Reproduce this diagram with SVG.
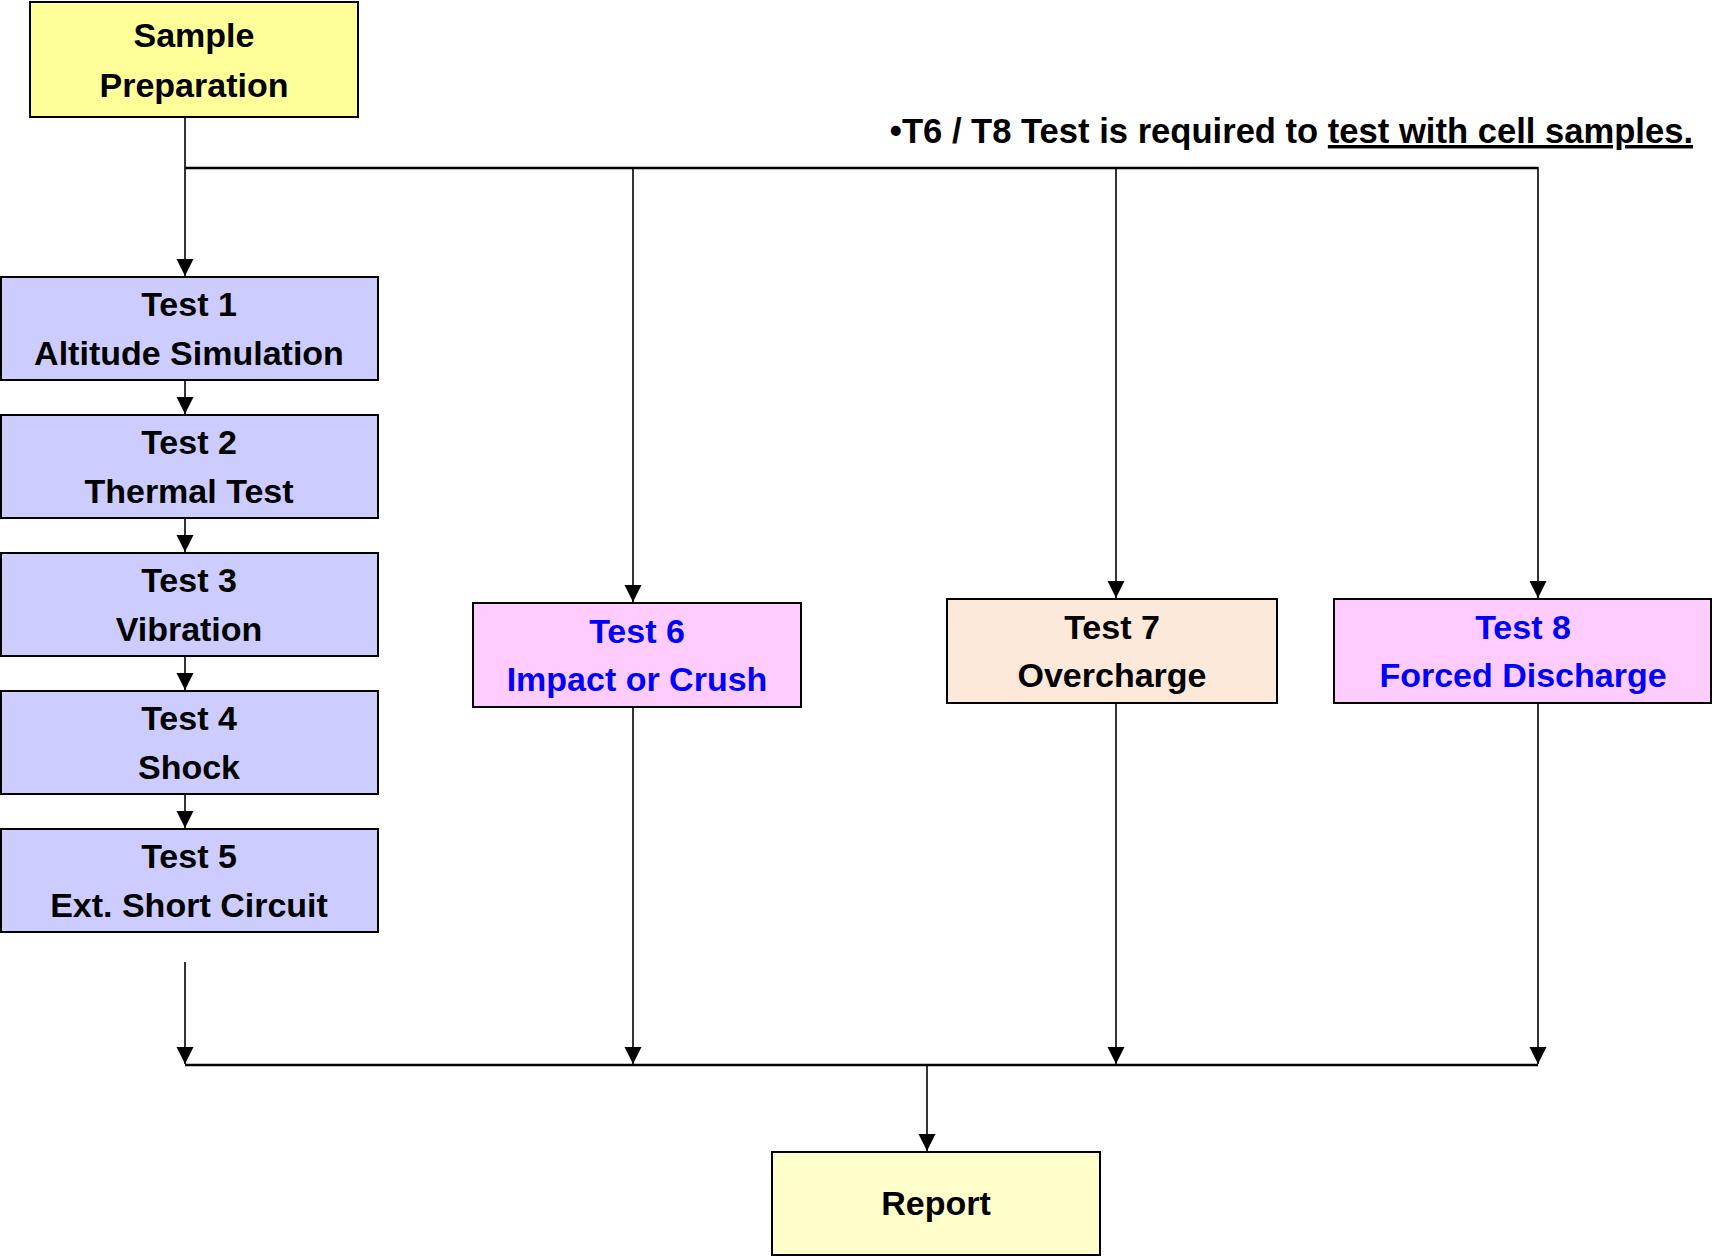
<svg xmlns="http://www.w3.org/2000/svg" width="1712" height="1256" viewBox="0 0 1712 1256">
<style>
  .box { stroke: #000; stroke-width: 2; }
  .lbl { font-family: "Liberation Sans", Arial, sans-serif; font-weight: bold; font-size: 34px; text-anchor: middle; fill: #000; }
  .blue { fill: #0000FF; }
  .v { stroke: #000; stroke-width: 1.6; fill: none; }
  .h { stroke: #000; stroke-width: 2.6; fill: none; }
  .note { font-family: "Liberation Sans", Arial, sans-serif; font-weight: bold; font-size: 34.6px; fill: #000; }
</style>
<defs>
  <marker id="arr" viewBox="0 0 17 19" refX="17" refY="8.5" markerWidth="17" markerHeight="19" markerUnits="userSpaceOnUse" orient="auto">
    <path d="M0,0 L17,8.5 L0,17 Z" fill="#000"/>
  </marker>
</defs>
<rect width="1712" height="1256" fill="#fff"/>

<g id="connectors">
  <line class="v" x1="185" y1="117" x2="185" y2="276" marker-end="url(#arr)"/>
  <line class="h" x1="185" y1="168" x2="1538" y2="168"/>
  <line class="v" x1="633" y1="168" x2="633" y2="602" marker-end="url(#arr)"/>
  <line class="v" x1="1116" y1="168" x2="1116" y2="598" marker-end="url(#arr)"/>
  <line class="v" x1="1538" y1="167" x2="1538" y2="598" marker-end="url(#arr)"/>
  <line class="v" x1="185" y1="380" x2="185" y2="414" marker-end="url(#arr)"/>
  <line class="v" x1="185" y1="518" x2="185" y2="552" marker-end="url(#arr)"/>
  <line class="v" x1="185" y1="656" x2="185" y2="690" marker-end="url(#arr)"/>
  <line class="v" x1="185" y1="794" x2="185" y2="828" marker-end="url(#arr)"/>
  <line class="v" x1="185" y1="962" x2="185" y2="1064" marker-end="url(#arr)"/>
  <line class="v" x1="633" y1="707" x2="633" y2="1064" marker-end="url(#arr)"/>
  <line class="v" x1="1116" y1="703" x2="1116" y2="1064" marker-end="url(#arr)"/>
  <line class="v" x1="1538" y1="703" x2="1538" y2="1064" marker-end="url(#arr)"/>
  <line class="h" x1="185" y1="1065" x2="1538" y2="1065"/>
  <line class="v" x1="927" y1="1065" x2="927" y2="1151" marker-end="url(#arr)"/>
</g>

<g id="sample-prep">
  <rect class="box" x="30" y="2" width="328" height="115" fill="#FFFF99"/>
  <text class="lbl" x="194" y="47">Sample</text>
  <text class="lbl" x="194" y="97">Preparation</text>
</g>

<g id="test1">
  <rect class="box" x="1" y="277" width="377" height="103" fill="#CCCCFF"/>
  <text class="lbl" x="189" y="316">Test 1</text>
  <text class="lbl" x="189" y="365">Altitude Simulation</text>
</g>
<g id="test2">
  <rect class="box" x="1" y="415" width="377" height="103" fill="#CCCCFF"/>
  <text class="lbl" x="189" y="454">Test 2</text>
  <text class="lbl" x="189" y="503">Thermal Test</text>
</g>
<g id="test3">
  <rect class="box" x="1" y="553" width="377" height="103" fill="#CCCCFF"/>
  <text class="lbl" x="189" y="592">Test 3</text>
  <text class="lbl" x="189" y="641">Vibration</text>
</g>
<g id="test4">
  <rect class="box" x="1" y="691" width="377" height="103" fill="#CCCCFF"/>
  <text class="lbl" x="189" y="730">Test 4</text>
  <text class="lbl" x="189" y="779">Shock</text>
</g>
<g id="test5">
  <rect class="box" x="1" y="829" width="377" height="103" fill="#CCCCFF"/>
  <text class="lbl" x="189" y="868">Test 5</text>
  <text class="lbl" x="189" y="917">Ext. Short Circuit</text>
</g>

<g id="test6">
  <rect class="box" x="473" y="603" width="328" height="104" fill="#FFCCFF"/>
  <text class="lbl blue" x="637" y="643">Test 6</text>
  <text class="lbl blue" x="637" y="691">Impact or Crush</text>
</g>
<g id="test7">
  <rect class="box" x="947" y="599" width="330" height="104" fill="#FDE9D9"/>
  <text class="lbl" x="1112" y="639">Test 7</text>
  <text class="lbl" x="1112" y="687">Overcharge</text>
</g>
<g id="test8">
  <rect class="box" x="1334" y="599" width="377" height="104" fill="#FFCCFF"/>
  <text class="lbl blue" x="1523" y="639">Test 8</text>
  <text class="lbl blue" x="1523" y="687">Forced Discharge</text>
</g>

<g id="report">
  <rect class="box" x="772" y="1152" width="328" height="103" fill="#FFFFCC"/>
  <text class="lbl" x="936" y="1215">Report</text>
</g>

<g id="note">
  <text class="note" x="1693" y="143" text-anchor="end">•T6 / T8 Test is required to <tspan text-decoration="underline">test with cell samples.</tspan></text>
</g>
</svg>
